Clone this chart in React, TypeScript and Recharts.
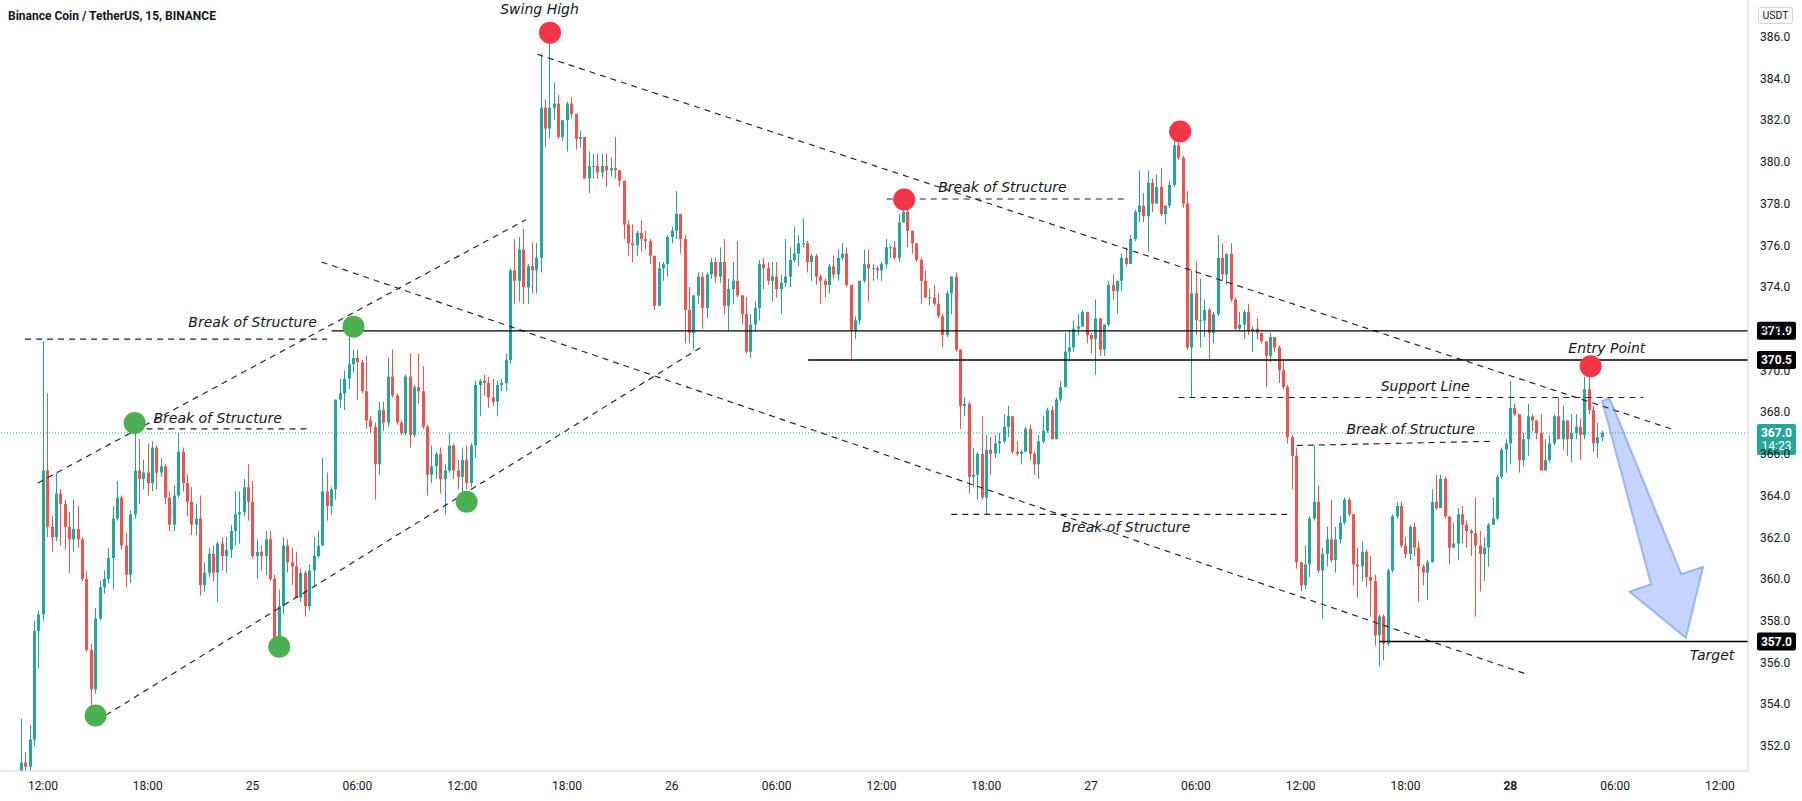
import React from 'react';
import { ComposedChart, Bar, XAxis, YAxis, ReferenceLine, ReferenceDot } from 'recharts';

// ---------- data (15-min candles, index 0 = 24th 10:45) ----------
const FIRST_OPEN = 350.8;
const closes = [
  351.2, 351.0, 352.3, 357.5, 358.3, 365.2, 362.5, 362.0, 364.1, 363.6,
  362.5, 361.9, 362.4, 361.9, 360.0, 356.6, 354.7, 358.1, 359.6, 360.0,
  361.0, 362.9, 363.9, 361.6, 360.2, 363.1, 365.2, 364.8, 365.1, 364.6,
  366.3, 365.1, 365.4, 363.9, 362.6, 364.0, 366.1, 364.6, 363.7, 362.6,
  362.9, 359.7, 360.3, 361.2, 360.3, 361.7, 361.1, 361.4, 362.3, 363.1,
  363.2, 364.4, 363.7, 361.1, 361.3, 361.1, 361.9, 360.0, 357.2, 358.7,
  361.6, 360.8, 360.6, 359.1, 360.3, 358.7, 360.4, 361.1, 361.6, 364.2,
  363.5, 364.3, 368.6, 368.9, 369.6, 370.3, 370.6, 370.4, 369.0, 367.6,
  367.3, 365.5, 368.1, 367.5, 369.7, 368.8, 367.5, 367.0, 369.7, 366.9,
  369.2, 369.0, 367.3, 365.0, 365.4, 366.0, 364.8, 365.2, 366.4, 365.2,
  364.9, 365.7, 364.6, 366.4, 369.3, 369.5, 369.4, 368.7, 368.5, 369.3,
  369.4, 370.5, 374.8, 374.3, 375.8, 374.0, 375.0, 374.8, 375.4, 382.6,
  381.6, 382.6, 382.8, 381.2, 382.0, 382.8, 382.3, 381.1, 381.2, 379.2,
  379.8, 379.8, 379.5, 379.8, 379.6, 379.7, 379.6, 379.1, 377.0, 376.1,
  376.0, 376.6, 376.3, 376.2, 375.5, 373.1, 374.9, 375.1, 376.4, 376.7,
  377.5, 376.3, 372.9, 371.8, 373.6, 374.5, 373.0, 374.6, 375.2, 374.5,
  375.2, 373.1, 373.9, 374.3, 373.6, 372.7, 370.9, 372.2, 373.0, 375.1,
  374.9, 374.3, 374.5, 373.9, 374.2, 374.5, 375.3, 375.6, 376.1, 376.1,
  375.2, 375.5, 374.5, 374.3, 374.1, 375.0, 374.6, 375.4, 375.6, 374.1,
  371.9, 372.4, 374.3, 375.1, 374.9, 374.9, 374.8, 375.1, 375.9, 375.9,
  375.4, 377.1, 377.6, 376.7, 376.1, 375.3, 374.3, 373.5, 373.5, 373.2,
  372.6, 371.7, 373.7, 374.5, 371.0, 368.3, 368.4, 364.9, 365.0, 366.0,
  363.9, 366.2, 366.0, 366.5, 366.6, 367.3, 367.8, 366.1, 366.0, 366.1,
  367.2, 366.0, 365.5, 366.6, 367.1, 368.1, 366.7, 368.6, 369.2, 370.9,
  371.1, 372.0, 372.1, 372.8, 371.7, 371.5, 372.5, 371.0, 372.2, 374.1,
  373.8, 374.3, 375.4, 375.1, 376.3, 377.6, 377.9, 377.4, 379.0, 378.0,
  378.8, 377.5, 377.9, 378.9, 380.8, 380.2, 378.0, 371.1, 373.7, 372.4,
  372.4, 372.9, 371.8, 372.7, 375.4, 374.6, 375.6, 373.4, 372.0, 372.2,
  372.8, 371.9, 372.0, 371.8, 371.4, 370.7, 371.6, 371.1, 370.0, 369.2,
  366.8, 365.9, 360.8, 359.7, 360.7, 362.9, 363.7, 360.4, 361.2, 361.9,
  360.9, 361.9, 362.7, 363.8, 363.1, 360.7, 360.6, 361.3, 360.1, 359.9,
  357.3, 358.2, 356.9, 360.4, 363.0, 363.5, 361.6, 361.2, 362.5, 361.5,
  360.6, 360.3, 360.8, 363.7, 363.4, 364.8, 363.0, 361.5, 361.7, 363.1,
  362.6, 362.3, 362.2, 361.6, 361.2, 361.5, 362.6, 362.9, 364.9, 366.2,
  366.5, 368.2, 367.9, 365.7, 366.7, 367.8, 367.6, 367.0, 365.2, 365.7,
  366.5, 367.8, 366.7, 367.6, 366.7, 367.0, 367.3, 366.9, 369.1, 368.1,
  366.5, 366.8, 367.0,
];
const highs = [
  353.3, 351.7, 353.0, 358.0, 358.5, 371.4, 368.9, 363.0, 365.1, 364.3,
  363.8, 363.2, 363.8, 363.5, 362.0, 360.4, 356.9, 358.6, 359.9, 360.4,
  361.5, 363.5, 364.7, 364.0, 362.2, 363.3, 367.4, 366.7, 365.7, 366.5,
  366.6, 366.4, 365.8, 365.5, 364.2, 364.5, 367.0, 366.3, 365.0, 364.4,
  363.6, 364.0, 360.8, 361.5, 361.6, 361.8, 362.0, 362.0, 362.6, 364.2,
  364.2, 364.8, 365.5, 364.7, 361.9, 361.6, 362.3, 362.3, 360.2, 359.5,
  362.0, 361.9, 361.5, 361.3, 360.5, 360.4, 360.7, 362.0, 362.3, 365.8,
  365.1, 364.4, 368.6, 369.6, 370.0, 372.0, 371.0, 371.0, 370.5, 370.7,
  367.8, 367.5, 368.5, 368.5, 370.6, 371.0, 368.9, 367.6, 369.8, 370.8,
  369.3, 370.8, 370.2, 367.4, 366.4, 366.1, 366.3, 365.5, 367.0, 366.5,
  365.7, 366.3, 366.4, 366.5, 369.5, 369.6, 369.8, 369.7, 369.6, 369.5,
  369.6, 370.8, 374.9, 376.3, 376.4, 376.8, 375.1, 376.1, 376.1, 385.2,
  383.0, 386.1, 383.8, 383.2, 382.0, 382.9, 383.1, 382.3, 381.5, 381.1,
  380.5, 380.4, 380.4, 380.4, 380.4, 380.2, 381.2, 379.6, 379.1, 377.2,
  377.0, 376.7, 377.2, 376.7, 376.3, 375.5, 375.2, 375.2, 376.5, 376.9,
  378.6, 377.5, 376.5, 374.0, 373.6, 374.7, 374.7, 374.7, 375.4, 375.4,
  375.9, 376.3, 374.4, 375.2, 376.2, 373.6, 373.5, 372.7, 373.3, 375.3,
  375.4, 375.2, 375.2, 375.2, 374.6, 376.3, 375.9, 376.9, 376.5, 377.3,
  376.2, 375.6, 375.6, 374.6, 374.4, 375.1, 375.5, 375.8, 376.1, 375.9,
  374.1, 372.6, 374.3, 375.8, 375.8, 375.1, 375.0, 375.2, 376.3, 376.0,
  376.2, 377.5, 378.6, 378.0, 376.6, 376.1, 375.4, 374.8, 373.9, 374.1,
  373.7, 372.7, 373.8, 374.5, 374.7, 371.0, 368.7, 368.5, 366.3, 366.1,
  367.8, 366.9, 366.8, 366.9, 367.0, 367.9, 368.3, 367.8, 366.6, 366.2,
  367.3, 367.4, 366.1, 366.9, 367.8, 368.2, 368.3, 368.7, 369.5, 371.8,
  371.9, 372.4, 372.7, 372.9, 372.8, 371.8, 373.4, 372.2, 372.2, 374.3,
  374.6, 374.3, 375.6, 375.9, 376.5, 377.7, 379.6, 378.5, 379.6, 379.2,
  379.4, 379.7, 377.9, 379.1, 381.2, 381.5, 380.3, 378.6, 374.8, 375.2,
  374.4, 373.4, 373.0, 372.8, 376.5, 376.1, 375.6, 376.1, 373.5, 372.8,
  372.9, 373.2, 372.1, 372.5, 371.8, 371.4, 371.8, 371.6, 371.2, 370.5,
  369.3, 366.9, 366.3, 360.8, 361.6, 363.0, 366.4, 364.5, 361.5, 362.5,
  363.8, 362.5, 363.0, 363.9, 363.9, 363.1, 361.5, 361.8, 361.4, 361.1,
  360.2, 358.3, 358.3, 360.5, 363.1, 363.7, 363.7, 362.0, 362.6, 362.7,
  361.8, 360.7, 360.9, 364.3, 365.0, 365.0, 364.9, 363.0, 362.7, 363.4,
  363.5, 362.8, 362.4, 363.9, 362.3, 362.0, 362.7, 363.9, 365.0, 366.3,
  366.7, 369.5, 368.4, 367.9, 367.0, 368.4, 367.9, 367.6, 367.9, 366.7,
  366.9, 367.9, 368.7, 368.3, 367.6, 367.9, 367.9, 367.7, 369.7, 370.2,
  368.3, 367.5, 367.1,
];
const lows = [
  350.5, 350.6, 350.8, 352.0, 355.7, 358.0, 362.0, 361.3, 361.8, 361.6,
  361.4, 360.3, 361.3, 361.5, 359.9, 356.5, 353.7, 354.5, 358.0, 359.3,
  359.8, 359.5, 362.8, 361.4, 359.6, 359.8, 362.9, 363.6, 364.3, 364.0,
  364.2, 364.3, 364.9, 363.6, 362.3, 362.3, 363.9, 364.2, 363.0, 362.1,
  362.1, 359.2, 359.4, 360.1, 359.9, 358.9, 360.4, 360.3, 361.0, 361.6,
  361.7, 363.0, 362.8, 361.0, 360.0, 360.4, 360.2, 359.9, 357.0, 356.8,
  358.3, 360.3, 359.7, 359.1, 358.9, 358.2, 358.5, 359.6, 361.0, 361.6,
  362.8, 363.1, 363.8, 368.2, 368.1, 369.1, 369.9, 368.6, 368.9, 367.2,
  367.0, 363.8, 365.0, 367.1, 367.3, 368.7, 367.4, 366.9, 366.9, 366.3,
  366.8, 368.4, 367.2, 364.0, 364.6, 364.8, 364.1, 363.1, 365.1, 364.8,
  364.3, 363.8, 364.3, 364.4, 365.8, 367.8, 368.8, 368.2, 368.3, 367.8,
  369.0, 369.0, 370.3, 373.2, 373.3, 373.2, 373.2, 373.7, 373.7, 374.7,
  380.7, 381.1, 382.0, 381.1, 381.0, 380.5, 382.1, 380.6, 380.7, 379.2,
  378.5, 379.2, 379.2, 379.2, 378.8, 379.3, 379.2, 378.8, 376.3, 375.5,
  375.2, 375.5, 375.7, 375.8, 375.1, 372.9, 373.1, 374.3, 374.5, 376.1,
  376.3, 375.6, 371.3, 371.3, 371.0, 373.2, 372.0, 372.5, 374.4, 374.2,
  374.2, 372.7, 371.9, 373.2, 373.5, 372.2, 370.8, 370.6, 371.9, 372.4,
  373.9, 374.1, 373.3, 373.5, 372.7, 374.0, 374.0, 375.2, 375.0, 375.9,
  374.7, 374.3, 374.1, 373.2, 373.5, 373.7, 374.4, 374.3, 375.3, 374.0,
  370.5, 371.5, 372.2, 374.2, 373.3, 374.3, 374.4, 374.3, 374.9, 375.4,
  375.3, 375.2, 377.1, 375.9, 375.6, 375.2, 373.2, 373.5, 373.1, 373.1,
  372.5, 371.1, 371.6, 372.7, 370.9, 367.2, 367.8, 364.1, 364.4, 363.8,
  363.8, 363.1, 365.0, 365.8, 366.0, 366.5, 366.8, 366.0, 365.9, 365.5,
  366.1, 365.7, 365.0, 364.8, 366.5, 367.0, 366.7, 366.7, 368.5, 369.2,
  370.5, 370.9, 371.7, 372.1, 371.3, 370.8, 369.8, 370.7, 370.7, 372.1,
  373.4, 372.7, 373.8, 375.0, 375.2, 376.2, 377.1, 377.1, 375.7, 377.6,
  378.0, 377.4, 377.0, 377.8, 378.8, 380.1, 377.8, 371.0, 368.7, 371.7,
  371.1, 371.6, 370.5, 371.3, 372.6, 374.3, 374.1, 373.3, 371.9, 371.9,
  371.5, 371.7, 370.9, 371.5, 371.3, 369.2, 370.4, 370.9, 369.4, 369.1,
  366.5, 364.3, 360.5, 359.4, 359.5, 360.1, 362.8, 360.3, 358.1, 360.6,
  360.8, 360.3, 361.7, 362.6, 363.0, 359.7, 359.1, 359.9, 359.6, 358.2,
  356.8, 355.8, 356.1, 356.8, 360.3, 362.9, 361.5, 361.0, 360.9, 361.1,
  358.9, 359.7, 359.0, 360.8, 363.3, 363.4, 362.9, 360.7, 361.5, 360.9,
  361.7, 361.5, 361.1, 358.2, 359.4, 359.9, 360.6, 362.6, 362.8, 364.8,
  365.1, 365.5, 367.8, 365.1, 365.4, 365.9, 367.1, 366.7, 365.2, 365.3,
  365.6, 366.4, 366.7, 366.2, 365.9, 365.6, 366.7, 365.7, 366.7, 367.9,
  366.1, 365.8, 366.6,
];

const timeTickIndex = [5, 29, 53, 77, 101, 125, 149, 173, 197, 221, 245, 269, 293, 317, 341, 365, 389];
const timeTickLabels = ['12:00', '18:00', '25', '06:00', '12:00', '18:00', '26', '06:00', '12:00', '18:00', '27', '06:00', '12:00', '18:00', '28', '06:00', '12:00'];
const priceTicks = [352, 354, 356, 358, 360, 362, 364, 366, 368, 370, 372, 374, 376, 378, 380, 382, 384, 386];

// annotations (candle index, price)
const greenDots = [
  { i: 17.05, p: 353.45 }, { i: 26.0, p: 367.48 }, { i: 59.1, p: 356.75 },
  { i: 76.1, p: 372.1 }, { i: 102.0, p: 363.7 },
];
const redDots = [
  { i: 121.1, p: 386.2 }, { i: 202.2, p: 378.2 }, { i: 265.4, p: 381.46 }, { i: 359.4, p: 370.2 },
];
const dashedSegments = [
  { a: [0.9, 371.5], b: [70, 371.5] },
  { a: [28.7, 367.2], b: [65.4, 367.2] },
  { a: [3.8, 364.6], b: [115.6, 377.23] },
  { a: [19.4, 353.47], b: [156, 371.15] },
  { a: [118.2, 385.16], b: [377.8, 367.2] },
  { a: [68.8, 375.2], b: [345.2, 355.4] },
  { a: [198.2, 378.22], b: [252.5, 378.22] },
  { a: [213.0, 363.1], b: [289.9, 363.1] },
  { a: [265.0, 368.7], b: [371.5, 368.7] },
  { a: [292.1, 366.4], b: [336.4, 366.6] },
];
const textNotes = [
  { i: 53.0, p: 372.3, t: 'Break of Structure' },
  { i: 45.0, p: 367.7, t: 'Break of Structure' },
  { i: 118.7, p: 387.33, t: 'Swing High' },
  { i: 224.7, p: 378.8, t: 'Break of Structure' },
  { i: 253.0, p: 362.5, t: 'Break of Structure' },
  { i: 321.5, p: 369.25, t: 'Support Line' },
  { i: 318.2, p: 367.2, t: 'Break of Structure' },
  { i: 363.1, p: 371.06, t: 'Entry Point' },
  { i: 387.2, p: 356.35, t: 'Target' },
];
const levelLines = [
  { from: 71.1, p: 371.9, label: '371.9' },
  { from: 180.2, p: 370.5, label: '370.5' },
  { from: 311.0, p: 357.0, label: '357.0' },
];
const lastPrice = 367.0;
const countdown = '14:23';
const arrowTail = { i: 362.9, p: 368.6 };
const arrowTip = { i: 381.2, p: 357.17 };

// ---------- constants ----------
const W = 1802;
const H = 801;
const XMIN = -4.847;
const XMAX = 395.43;
const YMIN = 350.79;
const YMAX = 387.765;
const TEAL = '#26a69a';
const RED = '#ef5350';
const INK = '#131722';
const AXIS_FONT = 'Roboto, "Liberation Sans", sans-serif';
const NOTE_FONT = '"DejaVu Sans", Verdana, sans-serif';

const data = closes.map((c, i) => {
  const o = i === 0 ? FIRST_OPEN : closes[i - 1];
  const h = Math.max(highs[i], o, c);
  const l = Math.min(lows[i], o, c);
  return { i, open: o, close: c, high: h, low: l, range: [l, h] };
});

const Candle = (props: any) => {
  const { x, y, width, height, payload } = props;
  if (payload == null || x == null) return null;
  const { open, close, high, low } = payload;
  const cx = Math.round(x + width / 2 - 0.5);
  const span = high - low;
  const py = (p: number) => (span === 0 ? y : y + ((high - p) / span) * height);
  const color = close >= open ? TEAL : RED;
  const top = py(Math.max(open, close));
  const bot = py(Math.min(open, close));
  return (
    <g>
      <rect x={cx} y={y} width={1} height={Math.max(height, 1)} fill={color} />
      <rect x={cx - 1} y={top} width={3} height={Math.max(bot - top, 1)} fill={color} />
    </g>
  );
};

const TimeTick = (props: any) => {
  const { x, y, payload } = props;
  const idx = timeTickIndex.indexOf(payload.value);
  const label = idx >= 0 ? timeTickLabels[idx] : '';
  return (
    <text x={x} y={y} dy="0.71em" textAnchor="middle" fontSize={12} fontFamily={AXIS_FONT}
      fill={INK} fontWeight={label === '28' ? 700 : 400}>{label}</text>
  );
};

const PriceTick = (props: any) => {
  const { x, y, payload } = props;
  return (
    <text x={x} y={y} dy="0.355em" textAnchor="start" fontSize={12} fontFamily={AXIS_FONT} fill={INK}>
      {Number(payload.value).toFixed(1)}
    </text>
  );
};

const axisBox = (text: string) => (props: any) => {
  const vb = props.viewBox || {};
  const ax = (vb.x || 0) + (vb.width || 0);
  const cy = vb.y || 0;
  return (
    <g>
      <rect x={ax + 9} y={cy - 9} width={39} height={18} rx={2} fill="#000" />
      <text x={ax + 28.5} y={cy} dy="0.36em" textAnchor="middle" fontSize={12} fontWeight={700}
        fontFamily={AXIS_FONT} fill="#fff">{text}</text>
    </g>
  );
};

const lastPriceBox = (props: any) => {
  const vb = props.viewBox || {};
  const ax = (vb.x || 0) + (vb.width || 0);
  const cy = vb.y || 0;
  return (
    <g>
      <rect x={ax + 9} y={cy - 9} width={39} height={31} rx={2} fill={TEAL} />
      <text x={ax + 28.5} y={cy} dy="0.36em" textAnchor="middle" fontSize={12} fontWeight={700}
        fontFamily={AXIS_FONT} fill="#fff">{lastPrice.toFixed(1)}</text>
      <text x={ax + 28.5} y={cy + 13} dy="0.36em" textAnchor="middle" fontSize={12}
        fontFamily={AXIS_FONT} fill="#fff">{countdown}</text>
    </g>
  );
};

const makeNote = (t: string) => (props: any) => (
  <text x={props.cx} y={props.cy} dy="0.35em" textAnchor="middle" fontSize={14} fontStyle="italic"
    fontFamily={NOTE_FONT} fill={INK}>{t}</text>
);

const ArrowShape = (props: any) => {
  const { x1, y1, x2, y2 } = props;
  if ([x1, y1, x2, y2].some((v) => v == null || isNaN(v))) return null;
  const dx = x2 - x1;
  const dy = y2 - y1;
  const len = Math.sqrt(dx * dx + dy * dy) || 1;
  const ux = dx / len;
  const uy = dy / len;
  const nx = -uy;
  const ny = ux;
  const hl = 62, hw = 39, tw = 4, sw = 16;
  const bx = x2 - ux * hl;
  const by = y2 - uy * hl;
  const pts = [
    [x1 + nx * tw, y1 + ny * tw],
    [bx + nx * sw, by + ny * sw],
    [bx + nx * hw, by + ny * hw],
    [x2, y2],
    [bx - nx * hw, by - ny * hw],
    [bx - nx * sw, by - ny * sw],
    [x1 - nx * tw, y1 - ny * tw],
  ];
  return (
    <polygon points={pts.map((p) => p.join(',')).join(' ')} fill="rgba(41,98,255,0.27)"
      stroke="rgba(41,98,255,0.38)" strokeWidth={2} strokeLinejoin="round" />
  );
};

export default function App() {
  return (
    <div style={{ position: 'absolute', left: 0, top: 0, width: W, height: H, background: '#fff', overflow: 'hidden' }}>
      <ComposedChart width={W} height={H} data={data} margin={{ top: 0, right: 0, bottom: 0, left: 0 }}>
        <XAxis dataKey="i" type="number" domain={[XMIN, XMAX]} allowDataOverflow ticks={timeTickIndex}
          interval={0} height={30} tickSize={0} tickMargin={10} tickLine={false}
          axisLine={{ stroke: '#d1d4dc' }} tick={<TimeTick />} />
        <YAxis orientation="right" type="number" domain={[YMIN, YMAX]} allowDataOverflow ticks={priceTicks}
          interval={0} width={54} tickSize={0} tickMargin={12} tickLine={false}
          axisLine={{ stroke: '#d1d4dc' }} tick={<PriceTick />} />
        <ReferenceLine y={lastPrice} stroke={TEAL} strokeDasharray="1 2" strokeWidth={1} label={lastPriceBox} />
        <Bar dataKey="range" barSize={3} isAnimationActive={false} shape={(p: any) => <Candle {...p} />} />
        {dashedSegments.map((s, k) => (
          <ReferenceLine key={'d' + k} segment={[{ x: s.a[0], y: s.a[1] }, { x: s.b[0], y: s.b[1] }]}
            stroke="#1e222d" strokeWidth={1.15} strokeDasharray="6 5" ifOverflow="visible" />
        ))}
        {levelLines.map((l, k) => (
          <ReferenceLine key={'l' + k} segment={[{ x: l.from, y: l.p }, { x: XMAX, y: l.p }]}
            stroke="#000" strokeWidth={1.3} ifOverflow="visible" label={axisBox(l.label)} />
        ))}
        {greenDots.map((d, k) => (
          <ReferenceDot key={'g' + k} x={d.i} y={d.p} r={11} fill="#4caf50" stroke="none" ifOverflow="visible" />
        ))}
        {redDots.map((d, k) => (
          <ReferenceDot key={'r' + k} x={d.i} y={d.p} r={11} fill="#f23645" stroke="none" ifOverflow="visible" />
        ))}
        {textNotes.map((n, k) => (
          <ReferenceDot key={'t' + k} x={n.i} y={n.p} r={1} ifOverflow="visible" shape={makeNote(n.t)} />
        ))}
        <ReferenceLine segment={[{ x: arrowTail.i, y: arrowTail.p }, { x: arrowTip.i, y: arrowTip.p }]}
          ifOverflow="visible" shape={(p: any) => <ArrowShape {...p} />} />
      </ComposedChart>
      <div style={{ position: 'absolute', left: 8, top: 8, fontFamily: AXIS_FONT, fontSize: 12, fontWeight: 700, color: INK, lineHeight: '16px', whiteSpace: 'nowrap' }}>
        Binance Coin / TetherUS, 15, BINANCE
      </div>
      <div style={{ position: 'absolute', left: 1758, top: 7, width: 33, height: 15, border: '1px solid #d1d4dc', borderRadius: 3, fontFamily: AXIS_FONT, fontSize: 10.5, color: INK, lineHeight: '15px', textAlign: 'center' }}>
        USDT
      </div>
    </div>
  );
}
